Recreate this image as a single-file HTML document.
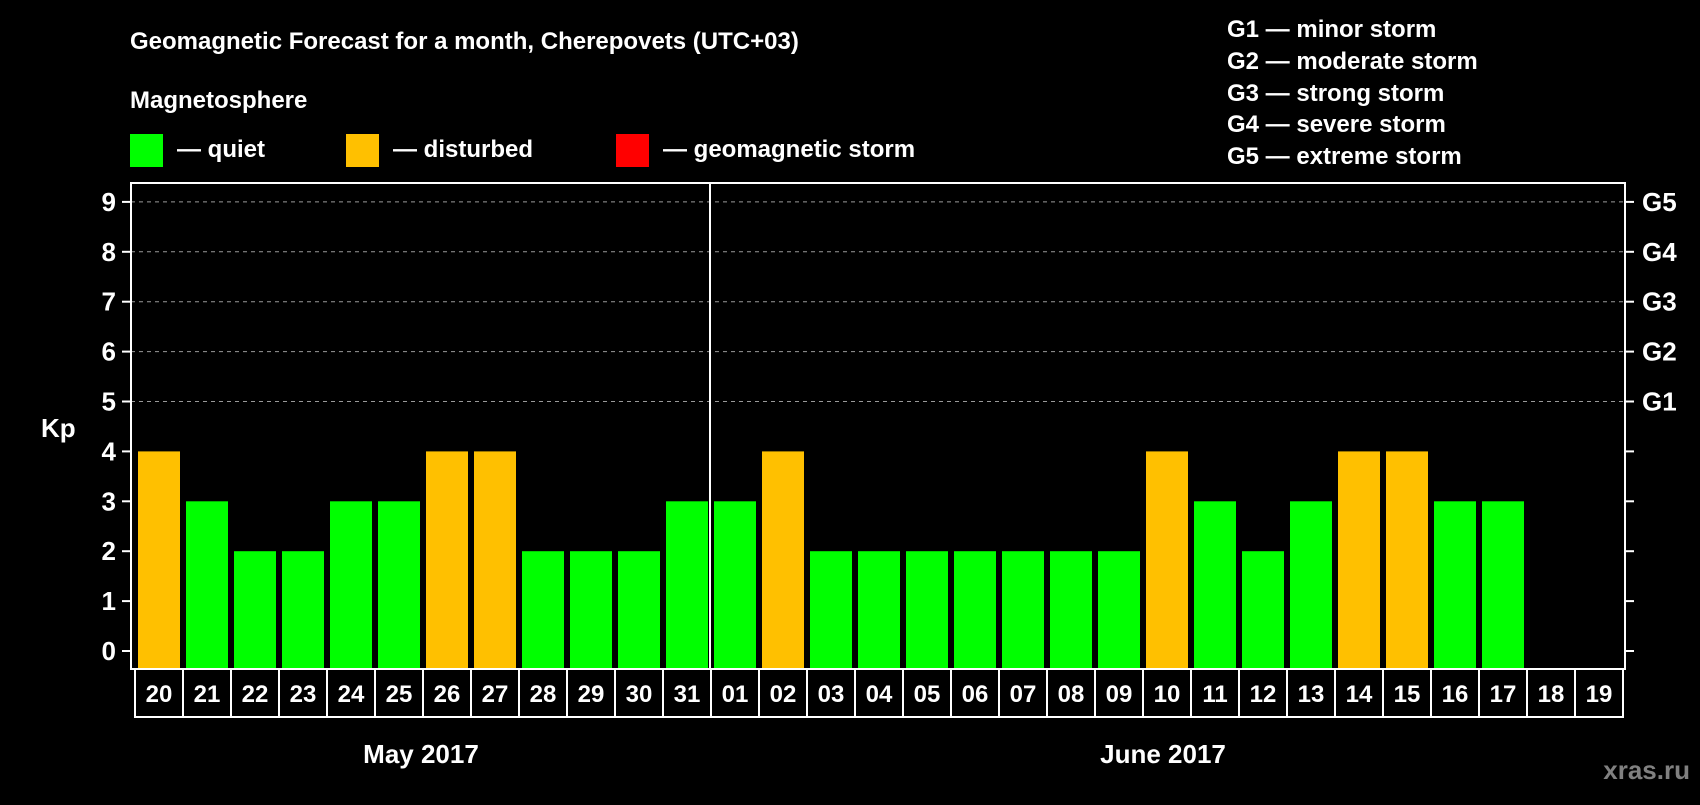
<!DOCTYPE html>
<html><head><meta charset="utf-8"><style>
body{margin:0;background:#000;width:1700px;height:800px;overflow:hidden}
svg text{font-family:"Liberation Sans",sans-serif;font-weight:bold;fill:#fff}
</style></head><body>
<svg id="c" width="1700" height="800">
<text x="130" y="49" font-size="24">Geomagnetic Forecast for a month, Cherepovets (UTC+03)</text>
<text x="130" y="108" font-size="24">Magnetosphere</text>
<rect x="130" y="134" width="33" height="33" fill="#00ff00"/>
<text x="177" y="157" font-size="24">— quiet</text>
<rect x="346" y="134" width="33" height="33" fill="#ffc000"/>
<text x="393" y="157" font-size="24">— disturbed</text>
<rect x="616" y="134" width="33" height="33" fill="#ff0000"/>
<text x="663" y="157" font-size="24">— geomagnetic storm</text>
<g font-size="24">
<text x="1227" y="37">G1 — minor storm</text>
<text x="1227" y="69">G2 — moderate storm</text>
<text x="1227" y="101">G3 — strong storm</text>
<text x="1227" y="132">G4 — severe storm</text>
<text x="1227" y="164">G5 — extreme storm</text>
</g>
<text x="41" y="437" font-size="26">Kp</text>
<g id="plot"></g>
<text x="421" y="763" font-size="26" text-anchor="middle">May 2017</text>
<text x="1163" y="763" font-size="26" text-anchor="middle">June 2017</text>
<text x="1690" y="779" font-size="26" text-anchor="end" style="fill:#808080">xras.ru</text>
</svg>
<script>
const days=["20","21","22","23","24","25","26","27","28","29","30","31","01","02","03","04","05","06","07","08","09","10","11","12","13","14","15","16","17","18","19"];
const kp=[4,3,2,2,3,3,4,4,2,2,2,3,3,4,2,2,2,2,2,2,2,4,3,2,3,4,4,3,3,null,null];
const yTicks=[0,1,2,3,4,5,6,7,8,9];
const gLabels=["","","","","","G1","G2","G3","G4","G5"];
const L=131,R=1625,T=183,B=669,cx0=135,cw=48;
const y=v=>651-v*49.9;
const x=i=>cx0+i*cw;
const NS="http://www.w3.org/2000/svg";
const g=document.getElementById('plot');
function mk(t,a){const e=document.createElementNS(NS,t);for(const k in a)e.setAttribute(k,a[k]);g.appendChild(e);return e;}
yTicks.forEach((v,i)=>{
  if(v>=5){const l=mk('line',{x1:L,x2:R,y1:y(v),y2:y(v),stroke:'#999','stroke-dasharray':'4,4','stroke-width':1});
  
  }
  const t1=mk('line',{x1:L-9,x2:L,y1:y(v),y2:y(v),stroke:'#fff','stroke-width':2});
  
  
  const t2=mk('line',{x1:R,x2:R+9,y1:y(v),y2:y(v),stroke:'#fff','stroke-width':2});
  
  
  const tx=mk('text',{x:116,y:y(v)+9,'font-size':26,'text-anchor':'end'});tx.textContent=v;
  
  
  if(gLabels[i]){const gt=mk('text',{x:1642,y:y(v)+9,'font-size':26});gt.textContent=gLabels[i];
  
  }
});
kp.forEach((v,i)=>{
  if(v==null)return;
  const col=v>=5?'#ff0000':v>=4?'#ffc000':'#00ff00';
  const r=mk('rect',{x:x(i)+3,y:y(v),width:42,height:y(0)+1-y(v)+17,fill:col});
  r.setAttribute('height',B-y(v));
  
  
});
const f=mk('rect',{x:L,y:T,width:R-L,height:B-T,fill:'none',stroke:'#fff','stroke-width':2});


const sep=mk('line',{x1:710,x2:710,y1:T,y2:B,stroke:'#fff','stroke-width':2});


days.forEach((d,i)=>{
  const c=mk('rect',{x:x(i),y:B,width:cw,height:48,fill:'none',stroke:'#fff','stroke-width':2});
  
  
  const t=mk('text',{x:x(i)+cw/2,y:B+33,'font-size':24,'text-anchor':'middle'});t.textContent=d;
  
  
});
</script>
</body></html>
